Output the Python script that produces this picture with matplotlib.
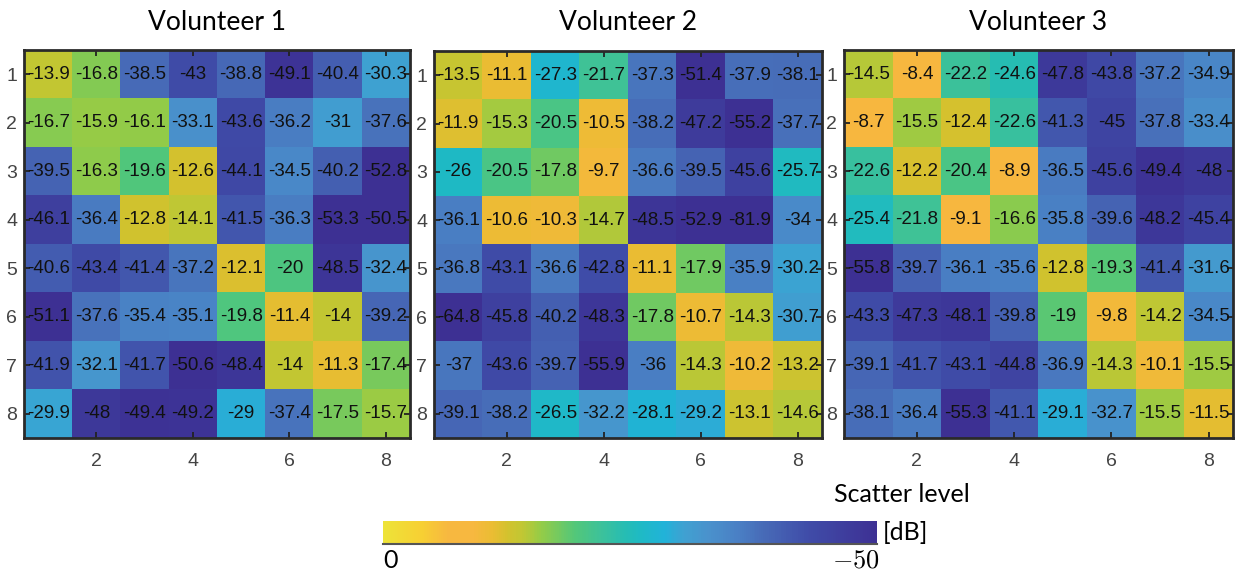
import numpy as np
import matplotlib
matplotlib.use("Agg")
import matplotlib.pyplot as plt
from matplotlib.colors import LinearSegmentedColormap, Normalize
from matplotlib.cm import ScalarMappable

titles = ["Volunteer 1", "Volunteer 2", "Volunteer 3"]
row_labels = [1, 2, 3, 4, 5, 6, 7, 8]
col_ticks = [2, 4, 6, 8]

vol1 = [
    [-13.9, -16.8, -38.5, -43, -38.8, -49.1, -40.4, -30.3],
    [-16.7, -15.9, -16.1, -33.1, -43.6, -36.2, -31, -37.6],
    [-39.5, -16.3, -19.6, -12.6, -44.1, -34.5, -40.2, -52.8],
    [-46.1, -36.4, -12.8, -14.1, -41.5, -36.3, -53.3, -50.5],
    [-40.6, -43.4, -41.4, -37.2, -12.1, -20, -48.5, -32.4],
    [-51.1, -37.6, -35.4, -35.1, -19.8, -11.4, -14, -39.2],
    [-41.9, -32.1, -41.7, -50.6, -48.4, -14, -11.3, -17.4],
    [-29.9, -48, -49.4, -49.2, -29, -37.4, -17.5, -15.7],
]
vol2 = [
    [-13.5, -11.1, -27.3, -21.7, -37.3, -51.4, -37.9, -38.1],
    [-11.9, -15.3, -20.5, -10.5, -38.2, -47.2, -55.2, -37.7],
    [-26, -20.5, -17.8, -9.7, -36.6, -39.5, -45.6, -25.7],
    [-36.1, -10.6, -10.3, -14.7, -48.5, -52.9, -81.9, -34],
    [-36.8, -43.1, -36.6, -42.8, -11.1, -17.9, -35.9, -30.2],
    [-64.8, -45.8, -40.2, -48.3, -17.8, -10.7, -14.3, -30.7],
    [-37, -43.6, -39.7, -55.9, -36, -14.3, -10.2, -13.2],
    [-39.1, -38.2, -26.5, -32.2, -28.1, -29.2, -13.1, -14.6],
]
vol3 = [
    [-14.5, -8.4, -22.2, -24.6, -47.8, -43.8, -37.2, -34.9],
    [-8.7, -15.5, -12.4, -22.6, -41.3, -45, -37.8, -33.4],
    [-22.6, -12.2, -20.4, -8.9, -36.5, -45.6, -49.4, -48],
    [-25.4, -21.8, -9.1, -16.6, -35.8, -39.6, -48.2, -45.4],
    [-55.8, -39.7, -36.1, -35.6, -12.8, -19.3, -41.4, -31.6],
    [-43.3, -47.3, -48.1, -39.8, -19, -9.8, -14.2, -34.5],
    [-39.1, -41.7, -43.1, -44.8, -36.9, -14.3, -10.1, -15.5],
    [-38.1, -36.4, -55.3, -41.1, -29.1, -32.7, -15.5, -11.5],
]
volunteers = [vol1, vol2, vol3]

# colormap (parula-like, as it appears in the reference), from -50 dB to 0 dB
cmap_colors = [
    (0.00, (0.24, 0.19, 0.58)),
    (0.14, (0.25, 0.30, 0.66)),
    (0.23, (0.28, 0.42, 0.72)),
    (0.28, (0.29, 0.50, 0.77)),
    (0.34, (0.29, 0.57, 0.80)),
    (0.39, (0.25, 0.63, 0.82)),
    (0.43, (0.13, 0.70, 0.85)),
    (0.48, (0.12, 0.73, 0.77)),
    (0.51, (0.15, 0.74, 0.70)),
    (0.56, (0.24, 0.76, 0.60)),
    (0.61, (0.32, 0.78, 0.48)),
    (0.68, (0.58, 0.80, 0.28)),
    (0.72, (0.76, 0.78, 0.20)),
    (0.75, (0.83, 0.76, 0.18)),
    (0.78, (0.92, 0.74, 0.20)),
    (0.82, (0.97, 0.72, 0.25)),
    (0.87, (0.97, 0.72, 0.25)),
    (0.92, (0.97, 0.81, 0.20)),
    (1.00, (0.93, 0.89, 0.22)),
]
cmap = LinearSegmentedColormap.from_list("parula_like", cmap_colors)
norm = Normalize(vmin=-50, vmax=0)

W, H = 1240, 574
fig = plt.figure(figsize=(W / 100, H / 100), dpi=100)

def px_axes(x0, y0, x1, y1):
    return fig.add_axes([x0 / W, (H - y1) / H, (x1 - x0) / W, (y1 - y0) / H])

panel_px = [(24, 50, 410, 438), (434, 51, 822, 438), (844, 50, 1233, 438)]

for k, (data, title) in enumerate(zip(volunteers, titles)):
    arr = np.array(data)
    ax = px_axes(*panel_px[k])
    ax.imshow(arr, cmap=cmap, norm=norm, extent=(0.5, 8.5, 8.5, 0.5),
              aspect="auto", interpolation="nearest")
    ax.set_xlim(0.5, 8.5)
    ax.set_ylim(8.5, 0.5)
    for i in range(arr.shape[0]):
        for j in range(arr.shape[1]):
            ax.text(j + 1, i + 1, f"{arr[i, j]:g}", ha="center", va="center",
                    fontsize=13.5, family="Liberation Sans", color="#111111")
    ax.set_xticks(col_ticks)
    ax.set_yticks(row_labels)
    ax.set_yticklabels([str(r) for r in row_labels])
    ax.tick_params(direction="in", length=4, width=1.3, top=True, right=True,
                   labelsize=14, colors="#222222", labelcolor="#444444")
    for lab in ax.get_xticklabels() + ax.get_yticklabels():
        lab.set_family("Liberation Sans")
    ax.tick_params(axis="x", pad=11)
    ax.tick_params(axis="y", pad=5)
    for sp in ax.spines.values():
        sp.set_linewidth(2.0)
        sp.set_color("#2a2a2a")
    cx = (panel_px[k][0] + panel_px[k][2]) / 2
    fig.text(cx / W, (H - 22) / H, title, ha="center", va="center",
             fontsize=19, family="Lato")

# colorbar
cax = px_axes(383, 521, 877, 544)
cb = fig.colorbar(ScalarMappable(norm=norm, cmap=cmap), cax=cax,
                  orientation="horizontal")
cax.invert_xaxis()
cb.set_ticks([])
cb.outline.set_visible(False)
cax.plot([0, 1], [0, 0], transform=cax.transAxes, color="#555555", lw=1.5,
         clip_on=False)

fig.text(902 / W, (H - 494) / H, "Scatter level", ha="center", va="center",
         fontsize=18, family="Lato")
fig.text(883 / W, (H - 532) / H, "[dB]", ha="left", va="center",
         fontsize=18, family="Lato")
fig.text(390 / W, (H - 561) / H, "0", ha="center", va="center",
         fontsize=18, family="Lato")
fig.text(856 / W, (H - 560) / H, r"$-50$", ha="center", va="center",
         fontsize=19, math_fontfamily="cm")

fig.savefig("out.png", dpi=100)
